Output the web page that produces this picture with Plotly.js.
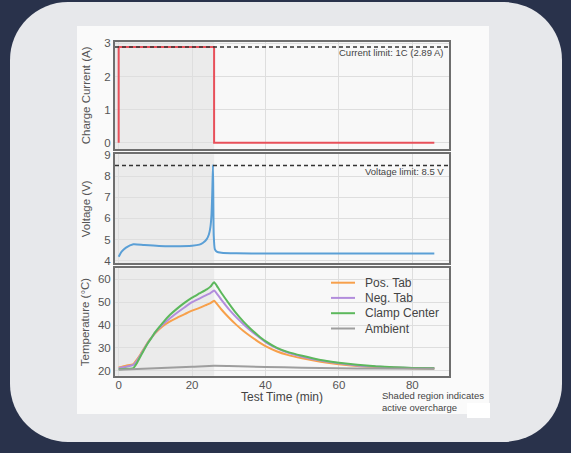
<!DOCTYPE html>
<html>
<head>
<meta charset="utf-8">
<script src="https://cdn.plot.ly/plotly-3.0.1.min.js"></script>
<style>
  html, body { margin: 0; padding: 0; width: 571px; height: 453px; overflow: hidden; background: #29324b; }
  #card { position: absolute; left: 10px; top: 2px; width: 552px; height: 440px; border-radius: 58px; background: #e7e8eb; }
  #inner { position: absolute; left: 77px; top: 26px; width: 412px; height: 388px; background: #fafafa; }
  #patch { position: absolute; left: 467px; top: 403px; width: 23px; height: 15px; background: #ffffff; }
  #chart { position: absolute; left: 0; top: 0; width: 571px; height: 453px; }
</style>
</head>
<body>
<div id="card"></div>
<div id="inner"></div>
<div id="patch"></div>
<div id="chart"></div>
<script>
// ---- Data ----
const currentTime = [0, 0, 26, 26, 86];
const currentValues = [0, 2.89, 2.89, 0, 0];
const currentLimit = 2.89;

const voltageTime = [0, 0.8, 2, 4, 7, 11, 15, 20, 22, 23, 24, 24.6, 25, 25.3, 25.5, 25.7, 25.9, 26.2, 26.7, 28, 32, 40, 60, 86];
const voltageValues = [4.19, 4.43, 4.62, 4.78, 4.74, 4.70, 4.69, 4.71, 4.76, 4.85, 5.02, 5.25, 5.6, 6.2, 7.2, 8.53, 5.2, 4.55, 4.43, 4.38, 4.35, 4.34, 4.34, 4.34];
const voltageLimit = 8.5;

const tempTime = [0, 2, 4, 5, 6, 7, 8, 9, 10, 12, 14, 16, 18, 20, 22, 24, 25, 26, 27, 28, 30, 32, 34, 36, 38, 40, 43, 46, 50, 55, 60, 65, 70, 75, 80, 86];
const posTab = [21.5, 22.3, 23.0, 25.0, 27.4, 30.0, 32.6, 34.6, 36.5, 39.5, 41.6, 43.3, 44.8, 46.3, 47.5, 48.9, 49.6, 50.6, 48.8, 46.8, 43.3, 40.2, 37.4, 35.0, 32.8, 30.8, 28.6, 27.0, 25.5, 24.0, 22.9, 22.1, 21.7, 21.4, 21.2, 21.0];
const negTab = [21.2, 21.8, 22.6, 24.5, 27.0, 29.8, 32.4, 34.6, 36.8, 40.2, 43.0, 45.5, 47.8, 50.0, 51.6, 53.2, 54.0, 55.1, 53.2, 51.0, 47.0, 43.5, 40.4, 37.5, 35.0, 32.6, 29.9, 28.0, 26.2, 24.5, 23.3, 22.4, 21.9, 21.5, 21.3, 21.1];
const clampCenter = [20.7, 20.9, 21.2, 23.5, 26.5, 29.5, 32.2, 34.6, 37.0, 41.0, 44.5, 47.3, 49.8, 52.0, 53.8, 55.6, 56.8, 58.7, 56.5, 54.0, 49.5, 45.2, 41.5, 38.3, 35.5, 33.0, 30.2, 28.3, 26.6, 24.8, 23.6, 22.7, 22.0, 21.6, 21.3, 21.1];
const ambientTime = [0, 10, 20, 26, 30, 40, 50, 60, 70, 86];
const ambient = [20.5, 21.2, 21.8, 22.2, 22.1, 21.7, 21.4, 21.2, 21.0, 20.9];

const seriesNames = ['Pos. Tab', 'Neg. Tab', 'Clamp Center', 'Ambient'];
const seriesColors = ['#f7a04b', '#b28ddc', '#5cb85c', '#9e9e9e'];
const overchargeEnd = 26;
const xTicks = [0, 20, 40, 60, 80];

// ---- Layout helpers ----
const W = 571, H = 453;
const px = v => v / W;
const py = v => 1 - v / H;
const xRange = [-1, 90];
const font = 'Liberation Sans, Arial, sans-serif';
const tickFont = {family: font, size: 11.5, color: '#555'};
const titleFont = {family: font, size: 11.5, color: '#555'};
const frame = {showline: true, linecolor: '#6e6e6e', linewidth: 2, mirror: true, zeroline: false,
               showgrid: true, gridcolor: '#dedede', gridwidth: 1, ticks: '', tickfont: tickFont};

const tempSeries = [posTab, negTab, clampCenter, ambient];
const tempTimes = [tempTime, tempTime, tempTime, ambientTime];

const traces = [
  {x: currentTime, y: currentValues, xaxis: 'x2', yaxis: 'y', mode: 'lines', showlegend: false,
   line: {color: '#e8505a', width: 2}, name: 'Charge Current'},
  {x: voltageTime, y: voltageValues, xaxis: 'x3', yaxis: 'y2', mode: 'lines', showlegend: false,
   line: {color: '#5a9fd6', width: 2, shape: 'spline', smoothing: 0.6}, name: 'Voltage'}
];
seriesNames.forEach((n, i) => traces.push({
  x: tempTimes[i], y: tempSeries[i], xaxis: 'x', yaxis: 'y3', mode: 'lines', name: n, showlegend: false,
  line: {color: seriesColors[i], width: 2, shape: 'spline', smoothing: 0.5}
}));

const xDomain = [px(115), px(449)];
const shade = (yref) => ({type: 'rect', xref: 'x', yref: yref + ' domain', x0: xRange[0], x1: overchargeEnd,
  y0: 0, y1: 1, fillcolor: '#ebebeb', line: {width: 0}, layer: 'below'});

// custom legend (compact spacing like the reference)
const legendRowsY = [282.7, 297.9, 313.2, 328.5];
const legendShapes = seriesNames.map((n, i) => ({type: 'line', xref: 'paper', yref: 'paper',
  x0: px(331), x1: px(355), y0: py(legendRowsY[i]), y1: py(legendRowsY[i]),
  line: {color: seriesColors[i], width: 2}}));
const legendTexts = seriesNames.map((n, i) => ({xref: 'paper', yref: 'paper', x: px(363), y: py(legendRowsY[i]),
  xanchor: 'left', yanchor: 'middle', showarrow: false, text: n, font: {family: font, size: 12, color: '#444'}}));

const layout = {
  width: W, height: H,
  margin: {l: 0, r: 0, t: 0, b: 0},
  paper_bgcolor: 'rgba(0,0,0,0)',
  plot_bgcolor: '#f8f8f8',
  font: {family: font, color: '#444'},
  showlegend: false,
  xaxis: Object.assign({}, frame, {domain: xDomain, anchor: 'y3', range: xRange, tickvals: xTicks, ticklabelstandoff: -3,
          title: {text: 'Test Time (min)', font: {family: font, size: 12, color: '#444'}, standoff: 2}}),
  xaxis2: Object.assign({}, frame, {domain: xDomain, anchor: 'y', matches: 'x', range: xRange, tickvals: xTicks, showticklabels: false}),
  xaxis3: Object.assign({}, frame, {domain: xDomain, anchor: 'y2', matches: 'x', range: xRange, tickvals: xTicks, showticklabels: false}),
  yaxis: Object.assign({}, frame, {domain: [py(149), py(41.7)], anchor: 'x2', range: [-0.19, 3.05], dtick: 1,
          title: {text: 'Charge Current (A)', font: titleFont, standoff: 11}}),
  yaxis2: Object.assign({}, frame, {domain: [py(263.3), py(154.3)], anchor: 'x3', range: [3.88, 9.03], dtick: 1,
          title: {text: 'Voltage (V)', font: titleFont, standoff: 11}}),
  yaxis3: Object.assign({}, frame, {domain: [py(375.7), py(268.3)], anchor: 'x', range: [17.9, 64.8], tickvals: [20, 30, 40, 50, 60],
          title: {text: 'Temperature (°C)', font: titleFont, standoff: 6}}),
  shapes: [
    shade('y'), shade('y2'), shade('y3'),
    {type: 'line', xref: 'x2 domain', yref: 'y', x0: 0, x1: 1, y0: currentLimit, y1: currentLimit,
     line: {color: '#333', width: 1.5, dash: '4px,3px'}},
    {type: 'line', xref: 'x3 domain', yref: 'y2', x0: 0, x1: 1, y0: voltageLimit, y1: voltageLimit,
     line: {color: '#333', width: 1.5, dash: '4px,3px'}}
  ].concat(legendShapes),
  annotations: [
    {xref: 'paper', yref: 'paper', x: px(446), y: py(52.7), xanchor: 'right', yanchor: 'middle', showarrow: false,
     text: 'Current limit: 1C (2.89 A)', font: {family: font, size: 9.5, color: '#444'}},
    {xref: 'paper', yref: 'paper', x: px(446), y: py(171.7), xanchor: 'right', yanchor: 'middle', showarrow: false,
     text: 'Voltage limit: 8.5 V', font: {family: font, size: 9.5, color: '#444'}},
    {xref: 'paper', yref: 'paper', x: px(380), y: py(401), xanchor: 'left', yanchor: 'middle', align: 'left', showarrow: false,
     text: 'Shaded region indicates<br>active overcharge', font: {family: font, size: 9.5, color: '#444'}}
  ].concat(legendTexts)
};

Plotly.newPlot('chart', traces, layout, {displayModeBar: false, staticPlot: true});
</script>
</body>
</html>
